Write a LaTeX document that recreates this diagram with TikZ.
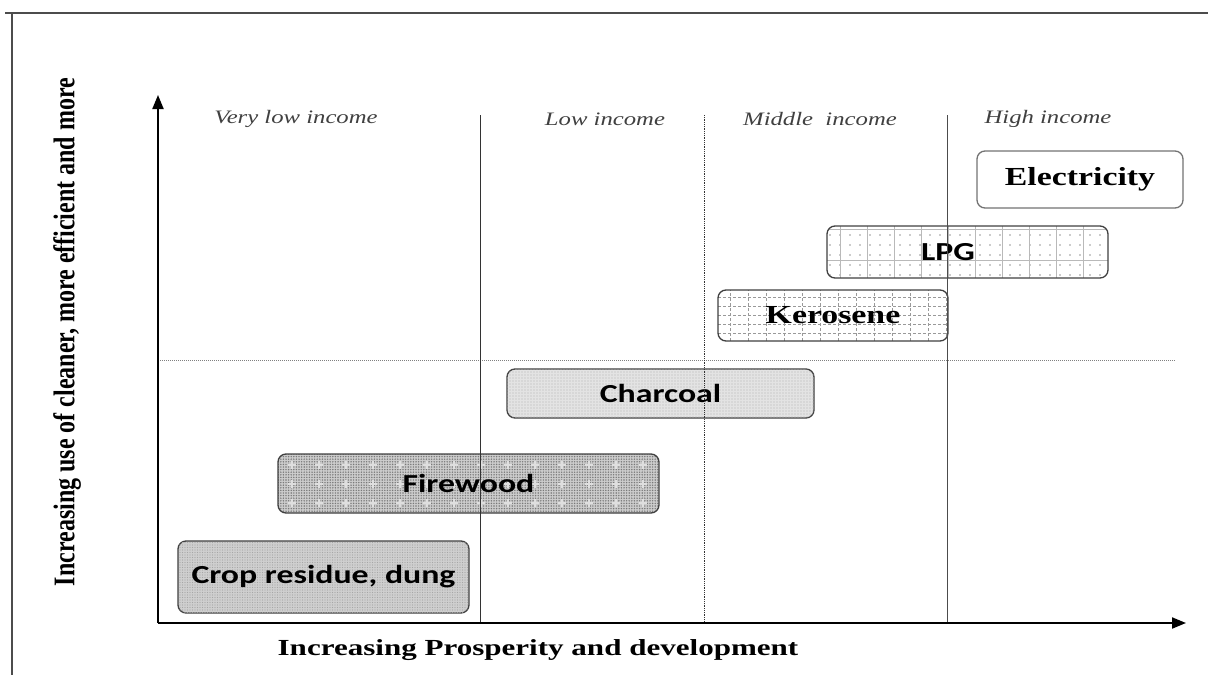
\documentclass[tikz,border=0pt]{standalone}
\usepackage{fontspec}
\setmainfont{Liberation Serif}
\newfontfamily\fuelsans[FakeStretch=1.3]{Carlito}
\newfontfamily\fuelserif[FakeStretch=1.3]{Liberation Serif}
\newfontfamily\axisserif[FakeStretch=1.35]{Liberation Serif}
\newfontfamily\vertserif[FakeStretch=0.8]{Liberation Serif}
\usetikzlibrary{arrows.meta,patterns.meta,calc}
\tikzset{
  fuel/.style={draw=black!75, line width=1.3pt, rounded corners=8pt, inner sep=0pt, align=center},
  sanslab/.style={font=\fuelsans\bfseries\fontsize{26}{30}\selectfont},
  seriflab/.style={font=\fuelserif\bfseries\fontsize{26}{30}\selectfont},
  income/.style={font=\fuelserif\itshape\fontsize{19}{22}\selectfont, text=black!75},
  axis/.style={-{Triangle[length=14pt,width=11pt]}, line width=2pt},
  divider/.style={line width=0.8pt, black!80},
}

\begin{document}
\begin{tikzpicture}[x=1pt, y=-1pt]
  \useasboundingbox (0,0) rectangle (1208,675);
  % frame
  \draw[gray!60!black, line width=2pt] (5,13) -- (1208,13);
  \draw[gray!60!black, line width=2pt] (12,13) -- (12,675);

  % axes
  \coordinate (o) at (158,623);
  \coordinate (ytop) at (158,95);
  \coordinate (xend) at (1186,623);

  % income bands
  \coordinate (d1t) at (480,115);  \coordinate (d1b) at (480,623);
  \coordinate (d2t) at (704,115);  \coordinate (d2b) at (704,623);
  \coordinate (d3t) at (947,115);  \coordinate (d3b) at (947,623);
  \coordinate (midl) at (158,360); \coordinate (midr) at (1176,360);
  \draw[gray, line width=1pt, densely dotted] (midl) -- (midr);

  \node[income] (vlow) at (296,119) {Very low income};
  \node[income] (low)  at (605,119) {Low income};
  \node[income] (mid)  at (820,119) {Middle\ \ income};
  \node[income] (high) at (1048,119) {High income};

  % fuels
  \node[fuel, fill=white, draw=black!55, minimum width=206pt, minimum height=57pt, seriflab] (elec)
    at (1080,179.5) {\raisebox{4pt}{Electricity}};
  \node[fuel, fill=white, minimum width=281pt, minimum height=52pt, sanslab,
    path picture={
      \fill[pattern={Dots[distance=10pt,radius=0.8pt]}, pattern color=gray!80]
        (path picture bounding box.south west) rectangle (path picture bounding box.north east);
      \draw[gray!55, very thin] (path picture bounding box.south west)
        grid[xstep=27pt, ystep=31pt] (path picture bounding box.north east);}] (lpg)
    at (967.5,252) {LPG\hspace*{39pt}};
  \node[fuel, fill=white, minimum width=230pt, minimum height=51pt, seriflab,
    path picture={\draw[gray!80, thin, densely dashed] (path picture bounding box.south west)
      grid[xstep=18pt, ystep=9pt] (path picture bounding box.north east);}] (kero)
    at (833,315.5) {Kerosene};
  \node[fuel, fill=gray!22, minimum width=307pt, minimum height=49pt, sanslab,
    postaction={pattern={Dots[distance=3pt,radius=0.6pt]}, pattern color=gray!60}] (char)
    at (660.5,393.5) {Charcoal};
  \node[fuel, fill=gray!40, minimum width=381pt, minimum height=59pt, sanslab,
    path picture={
      \fill[pattern={Dots[distance=2.6pt,radius=0.8pt]}, pattern color=gray!95!black]
        (path picture bounding box.south west) rectangle (path picture bounding box.north east);
      \foreach \i in {0,...,14} \foreach \j in {0,1,2}
        \draw[gray!25, line width=1.3pt] ($(path picture bounding box.north west)+(\i*27+14,\j*19+11)$)
          ++(-4,0) -- ++(8,0) ++(-4,-4) -- ++(0,8);}] (fire)
    at (468.5,483.5) {\raisebox{-5pt}{Firewood}};
  \node[fuel, fill=gray!38, minimum width=291pt, minimum height=72pt, sanslab,
    postaction={pattern={Dots[distance=2.5pt,radius=0.6pt]}, pattern color=gray!70}] (crop)
    at (323.5,577) {\raisebox{-8pt}{Crop residue, dung}};

  % band dividers over the boxes
  \draw[divider] (d1t) -- (d1b);
  \draw[divider, densely dotted] (d2t) -- (d2b);
  \draw[divider, black!70] (d3t) -- (d3b);

  \draw[axis] (o) -- (ytop);
  \draw[axis] (o) -- (xend);

  % axis labels
  \node[font=\axisserif\bfseries\fontsize{23}{26}\selectfont] (xlab) at (538,650)
    {Increasing Prosperity and development};
  \node[rotate=90, font=\vertserif\bfseries\fontsize{30}{34}\selectfont] (ylab) at (67,332)
    {Increasing use of cleaner, more efficient and more};
\end{tikzpicture}
\end{document}
